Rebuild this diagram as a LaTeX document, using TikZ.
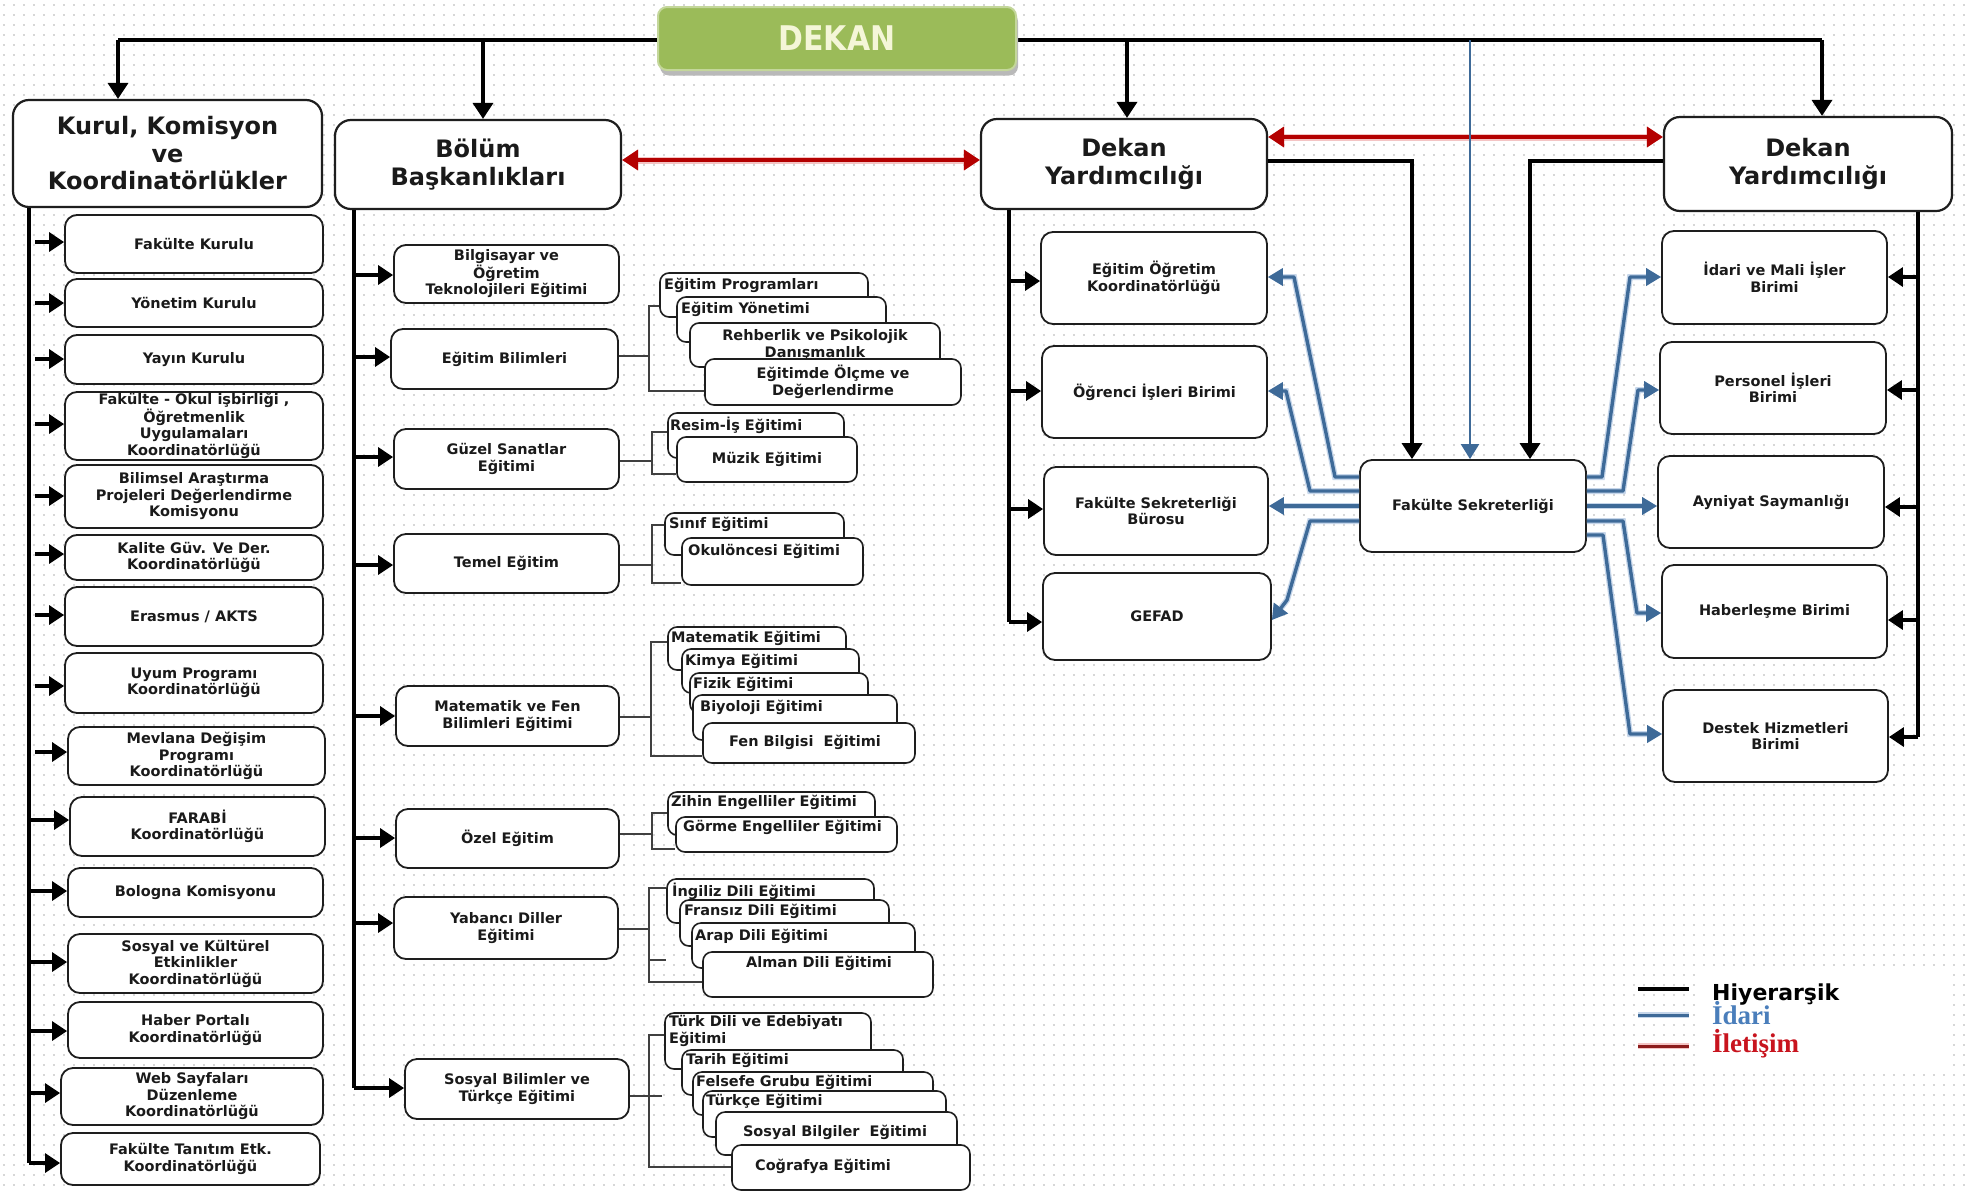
\documentclass[tikz,border=0pt]{standalone}
\usepackage{fontspec}
\setmainfont{DejaVu Sans}
\newfontfamily\legserif{Liberation Serif}
\newfontfamily\dekanfont[FakeStretch=0.88]{DejaVu Sans}
\usetikzlibrary{arrows.meta}
\definecolor{dotc}{HTML}{B0B0B0}
\definecolor{boxc}{HTML}{1E1E1E}
\definecolor{txtc}{HTML}{1A1A1A}
\definecolor{idblue}{HTML}{3E6A98}
\definecolor{idlight}{HTML}{C6D6EA}
\definecolor{idtxt}{HTML}{4A7EBB}
\definecolor{redc}{HTML}{B40000}
\definecolor{redlight}{HTML}{F4C4C4}
\definecolor{legred}{HTML}{8C1C1C}
\definecolor{redtxt}{HTML}{C8141E}
\definecolor{dgreen}{HTML}{9BBB59}
\definecolor{dgreenl}{HTML}{C4D79B}
\definecolor{dekantxt}{HTML}{F4F6D8}
\newcommand{\bx}[7]{\node[#1, minimum width={#5-#3}, minimum height={#6-#4}] (#2) at ({(#3+#5)/2},{(#4+#6)/2}) {#7};}
\tikzset{
 sfont/.style={font=\fontsize{14.5}{16.5}\selectfont\bfseries, text=txtc},
 hfont/.style={font=\fontsize{24}{27.5}\selectfont\bfseries, text=txtc},
 hbox/.style={draw=boxc, line width=2.2pt, fill=white, rounded corners=16pt, hfont, align=center, inner sep=0pt},
 sbox/.style={draw=boxc, line width=1.8pt, fill=white, rounded corners=12pt, sfont, align=center, inner sep=0pt},
 subbox/.style={draw=boxc, line width=1.6pt, fill=white, rounded corners=9pt, inner sep=0pt},
 stxt/.style={sfont, inner sep=0pt, align=left},
 ctxt/.style={sfont, inner sep=0pt, align=center},
 hline/.style={draw=black, line width=3.5pt},
 harrow/.style={draw=black, line width=3.5pt, -{Triangle[length=16pt,width=20pt]}},
 brarrow/.style={draw=black, line width=3.2pt, -{Triangle[length=15pt,width=19pt]}},
 brk/.style={draw=boxc!85, line width=1.4pt},
 blueln/.style={draw=idblue, line width=3.4pt, line join=round, preaction={draw=idlight, line width=6pt}},
 bluearrow/.style={blueln, -{Triangle[length=15pt,width=17pt]}},
 redarrow/.style={draw=redc, line width=3.5pt, {Triangle[length=16pt,width=20pt]}-{Triangle[length=16pt,width=20pt]}, preaction={draw=redlight, line width=7pt}},
}
\begin{document}
\begin{tikzpicture}[x=1pt,y=-1pt]
\useasboundingbox (0,0) rectangle (1966,1192);
\fill[white] (0,0) rectangle (1966,1192);
\foreach \yy in {5,15,...,1185} \draw[dotc, line width=1.6pt, line cap=round, dash pattern=on 0pt off 10pt] (4,\yy) -- (1966,\yy);

% top line and DEKAN
\coordinate (tl) at (118,40);
\coordinate (tr) at (1822,40);
\draw[hline] (tl) -- (tr);
\node[fill=gray!55, rounded corners=9pt, minimum width=358, minimum height=63, inner sep=0pt] (dsh) at (839,44) {};
\node[fill=dgreen, draw=dgreenl, line width=2pt, rounded corners=9pt, minimum width=358, minimum height=63, inner sep=0pt, font=\dekanfont\fontsize{34}{34}\selectfont\bfseries, text=dekantxt] (dekan) at (837,38.5) {DEKAN};

% headers
\bx{hbox}{kurul}{13}{100}{322}{207}{Kurul, Komisyon\\ve\\Koordinatörlükler}
\bx{hbox}{bolum}{335}{120}{621}{209}{Bölüm\\Başkanlıkları}
\bx{hbox}{dy1}{981}{119}{1267}{209}{Dekan\\Yardımcılığı}
\bx{hbox}{dy2}{1664}{117}{1952}{211}{Dekan\\Yardımcılığı}

% left column
\bx{sbox}{k1}{65}{215}{323}{273}{Fakülte Kurulu}
\bx{sbox}{k2}{65}{279}{323}{327}{Yönetim Kurulu}
\bx{sbox}{k3}{65}{335}{323}{384}{Yayın Kurulu}
\bx{sbox}{k4}{65}{392}{323}{460}{Fakülte - Okul işbirliği ,\\Öğretmenlik\\Uygulamaları\\Koordinatörlüğü}
\bx{sbox}{k5}{65}{465}{323}{528}{Bilimsel Araştırma\\Projeleri Değerlendirme\\Komisyonu}
\bx{sbox}{k6}{65}{535}{323}{580}{Kalite Güv. Ve Der.\\Koordinatörlüğü}
\bx{sbox}{k7}{65}{587}{323}{646}{Erasmus / AKTS}
\bx{sbox}{k8}{65}{653}{323}{713}{Uyum Programı\\Koordinatörlüğü}
\bx{sbox}{k9}{68}{727}{325}{785}{Mevlana Değişim\\Programı\\Koordinatörlüğü}
\bx{sbox}{k10}{70}{797}{325}{856}{FARABİ\\Koordinatörlüğü}
\bx{sbox}{k11}{68}{868}{323}{917}{Bologna Komisyonu}
\bx{sbox}{k12}{68}{934}{323}{993}{Sosyal ve Kültürel\\Etkinlikler\\Koordinatörlüğü}
\bx{sbox}{k13}{68}{1002}{323}{1058}{Haber Portalı\\Koordinatörlüğü}
\bx{sbox}{k14}{61}{1068}{323}{1125}{Web Sayfaları\\Düzenleme\\Koordinatörlüğü}
\bx{sbox}{k15}{61}{1133}{320}{1185}{Fakülte Tanıtım Etk.\\Koordinatörlüğü}

% middle column
\bx{sbox}{b1}{394}{245}{619}{303}{Bilgisayar ve\\Öğretim\\Teknolojileri Eğitimi}
\bx{sbox}{b2}{391}{329}{618}{389}{Eğitim Bilimleri}
\bx{sbox}{b3}{394}{429}{619}{489}{Güzel Sanatlar\\Eğitimi}
\bx{sbox}{b4}{394}{534}{619}{593}{Temel Eğitim}
\bx{sbox}{b5}{396}{686}{619}{746}{Matematik ve Fen\\Bilimleri Eğitimi}
\bx{sbox}{b6}{396}{809}{619}{868}{Özel Eğitim}
\bx{sbox}{b7}{394}{897}{618}{959}{Yabancı Diller\\Eğitimi}
\bx{sbox}{b8}{405}{1059}{629}{1119}{Sosyal Bilimler ve\\Türkçe Eğitimi}

% sub-box groups
\bx{subbox}{eb1}{660}{273}{868}{317}{}
\node[stxt, anchor=west] (eb1t) at (664,285) {Eğitim Programları};
\bx{subbox}{eb2}{677}{297}{886}{342}{}
\node[stxt, anchor=west] (eb2t) at (681,309) {Eğitim Yönetimi};
\bx{subbox}{eb3}{690}{323}{940}{367}{}
\node[ctxt] (eb3t) at (815,345) {Rehberlik ve Psikolojik\\Danışmanlık};
\bx{subbox}{eb4}{705}{359}{961}{405}{}
\node[ctxt] (eb4t) at (833,382) {Eğitimde Ölçme ve\\Değerlendirme};

\bx{subbox}{gs1}{668}{413}{844}{458}{}
\node[stxt, anchor=west] (gs1t) at (670,425) {Resim-İş Eğitimi};
\bx{subbox}{gs2}{677}{437}{857}{482}{}
\node[ctxt] (gs2t) at (767,459) {Müzik Eğitimi};

\bx{subbox}{te1}{665}{513}{844}{555}{}
\node[stxt, anchor=west] (te1t) at (669,524) {Sınıf Eğitimi};
\bx{subbox}{te2}{682}{538}{863}{585}{}
\node[stxt, anchor=west] (te2t) at (688,551) {Okulöncesi Eğitimi};

\bx{subbox}{mf1}{668}{627}{846}{670}{}
\node[stxt, anchor=west] (mf1t) at (671,638) {Matematik Eğitimi};
\bx{subbox}{mf2}{682}{649}{859}{693}{}
\node[stxt, anchor=west] (mf2t) at (685,661) {Kimya Eğitimi};
\bx{subbox}{mf3}{690}{673}{868}{713}{}
\node[stxt, anchor=west] (mf3t) at (693,684) {Fizik Eğitimi};
\bx{subbox}{mf4}{693}{695}{897}{740}{}
\node[stxt, anchor=west] (mf4t) at (700,707) {Biyoloji Eğitimi};
\bx{subbox}{mf5}{703}{723}{915}{763}{}
\node[ctxt] (mf5t) at (805,742) {Fen Bilgisi~ Eğitimi};

\bx{subbox}{oz1}{668}{792}{875}{835}{}
\node[stxt, anchor=west] (oz1t) at (671,802) {Zihin Engelliler Eğitimi};
\bx{subbox}{oz2}{676}{817}{897}{852}{}
\node[stxt, anchor=west] (oz2t) at (683,827) {Görme Engelliler Eğitimi};

\bx{subbox}{yd1}{667}{879}{874}{923}{}
\node[stxt, anchor=west] (yd1t) at (672,891) {İngiliz Dili Eğitimi};
\bx{subbox}{yd2}{680}{900}{889}{946}{}
\node[stxt, anchor=west] (yd2t) at (684,911) {Fransız Dili Eğitimi};
\bx{subbox}{yd3}{692}{923}{915}{968}{}
\node[stxt, anchor=west] (yd3t) at (695,936) {Arap Dili Eğitimi};
\bx{subbox}{yd4}{703}{952}{933}{997}{}
\node[ctxt] (yd4t) at (819,963) {Alman Dili Eğitimi};

\bx{subbox}{sb1}{665}{1013}{871}{1069}{}
\node[stxt, anchor=west] (sb1t) at (669,1031) {Türk Dili ve Edebiyatı\\Eğitimi};
\bx{subbox}{sb2}{682}{1050}{903}{1095}{}
\node[stxt, anchor=west] (sb2t) at (686,1060) {Tarih Eğitimi};
\bx{subbox}{sb3}{693}{1072}{933}{1115}{}
\node[stxt, anchor=west] (sb3t) at (696,1082) {Felsefe Grubu Eğitimi};
\bx{subbox}{sb4}{703}{1091}{946}{1137}{}
\node[stxt, anchor=west] (sb4t) at (706,1101) {Türkçe Eğitimi};
\bx{subbox}{sb5}{716}{1112}{957}{1155}{}
\node[ctxt] (sb5t) at (835,1132) {Sosyal Bilgiler~ Eğitimi};
\bx{subbox}{sb6}{732}{1145}{970}{1190}{}
\node[ctxt] (sb6t) at (823,1166) {Coğrafya Eğitimi};

% right side
\bx{sbox}{eok}{1041}{232}{1267}{324}{Eğitim Öğretim\\Koordinatörlüğü}
\bx{sbox}{oi}{1042}{346}{1267}{438}{Öğrenci İşleri Birimi}
\bx{sbox}{fsb}{1044}{467}{1268}{555}{Fakülte Sekreterliği\\Bürosu}
\bx{sbox}{gef}{1043}{573}{1271}{660}{GEFAD}
\bx{sbox}{fs}{1360}{460}{1586}{552}{Fakülte Sekreterliği}
\bx{sbox}{ida}{1662}{231}{1887}{324}{İdari ve Mali İşler\\Birimi}
\bx{sbox}{per}{1660}{342}{1886}{434}{Personel İşleri\\Birimi}
\bx{sbox}{ayn}{1658}{456}{1884}{548}{Ayniyat Saymanlığı}
\bx{sbox}{hab}{1662}{565}{1887}{658}{Haberleşme Birimi}
\bx{sbox}{des}{1663}{690}{1888}{782}{Destek Hizmetleri\\Birimi}

% top arrows
\draw[harrow] (tl) -- (kurul.north -| tl);
\draw[harrow] (483,40) -- (bolum.north -| 483,0);
\draw[harrow] (1127,40) -- (dy1.north -| 1127,0);
\draw[harrow] (tr) -- (dy2.north -| tr);

% left column tree
\draw[hline] (kurul.south -| 29,0) -- (29,1163);
\foreach \nn/\yy in {k1/242,k2/303,k3/359,k4/424,k5/496,k6/554,k7/615,k8/686,k9/752}
  \draw[brarrow] (35,\yy) -- (\nn.west |- 0,\yy);
\foreach \nn/\yy in {k10/820,k11/891,k12/962,k13/1031,k14/1093,k15/1163}
  \draw[brarrow] (29,\yy) -- (\nn.west |- 0,\yy);

% middle column tree
\draw[hline] (bolum.south -| 354,0) -- (354,1088);
\foreach \nn/\yy in {b1/275,b2/357,b3/457,b4/565,b5/716,b6/838,b7/923,b8/1088}
  \draw[brarrow] (354,\yy) -- (\nn.west |- 0,\yy);

% brackets
\draw[brk] (b2.east |- 0,356) -- (649,356);
\draw[brk] (eb1.west |- 0,306) -| (649,391) -- (eb4.west |- 0,391);
\draw[brk] (b3.east |- 0,461) -- (652,461);
\draw[brk] (gs1.west |- 0,432) -| (652,474) -- (gs2.west |- 0,474);
\draw[brk] (b4.east |- 0,565) -- (652,565);
\draw[brk] (te1.west |- 0,525) -| (652,583) -- (te2.west |- 0,583);
\draw[brk] (b5.east |- 0,717) -- (651,717);
\draw[brk] (mf1.west |- 0,642) -| (651,756) -- (mf5.west |- 0,756);
\draw[brk] (b6.east |- 0,834) -- (652,834);
\draw[brk] (oz1.west |- 0,813) -| (652,849) -- (oz2.west |- 0,849);
\draw[brk] (b7.east |- 0,929) -- (649,929);
\draw[brk] (yd1.west |- 0,888) -| (649,982) -- (yd4.west |- 0,982);
\draw[brk] (649,960) -- (666,960);
\draw[brk] (b8.east |- 0,1096) -- (662,1096);
\draw[brk] (sb1.west |- 0,1035) -| (649,1167) -- (sb6.west |- 0,1167);

% Dekan yardimciligi 1 tree
\draw[hline] (dy1.south -| 1009,0) -- (1009,622);
\foreach \nn/\yy in {eok/281,oi/391,fsb/509,gef/622}
  \draw[brarrow] (1009,\yy) -- (\nn.west |- 0,\yy);

% Dekan yardimciligi 2 tree
\draw[hline] (dy2.south -| 1918,0) -- (1918,737);
\foreach \nn/\yy in {ida/277,per/390,ayn/507,hab/620,des/737}
  \draw[brarrow] (1918,\yy) -- (\nn.east |- 0,\yy);

% to Fakulte Sekreterligi
\draw[harrow] (dy1.east |- 0,161) -| (fs.north -| 1412,0);
\draw[harrow] (dy2.west |- 0,161) -| (fs.north -| 1530,0);

% red communication arrows
\draw[redarrow] (bolum.east |- 0,160) -- (dy1.west |- 0,160);
\draw[redarrow] (dy1.east |- 0,137) -- (dy2.west |- 0,137);

% blue administrative lines
\draw[draw=idblue, line width=2.2pt, -{Triangle[length=15pt,width=18pt]}] (1470,40) -- (fs.north -| 1470,0);
\draw[bluearrow] (fs.west |- 0,477) -- (1335,477) -- (1294,277) -- (eok.east |- 0,277);
\draw[bluearrow] (fs.west |- 0,491) -- (1310,491) -- (1286,391) -- (oi.east |- 0,391);
\draw[bluearrow] (fs.west |- 0,506) -- (fsb.east |- 0,506);
\draw[bluearrow] (fs.west |- 0,521) -- (1310,521) -- (1287,600) -- (gef.east |- 0,620);
\draw[bluearrow] (fs.east |- 0,477) -- (1602,477) -- (1630,277) -- (ida.west |- 0,277);
\draw[bluearrow] (fs.east |- 0,491) -- (1623,491) -- (1638,390) -- (per.west |- 0,390);
\draw[bluearrow] (fs.east |- 0,506) -- (ayn.west |- 0,506);
\draw[bluearrow] (fs.east |- 0,521) -- (1623,521) -- (1637,613) -- (hab.west |- 0,613);
\draw[bluearrow] (fs.east |- 0,535) -- (1603,535) -- (1630,734) -- (des.west |- 0,734);

% legend
\node[fill=white, minimum width=256, minimum height=94, inner sep=0pt] (legbg) at (1825,1020) {};
\draw[draw=black, line width=3.5pt] (1638,989) -- (1689,989);
\draw[draw=idblue, line width=3pt, preaction={draw=idlight, line width=6pt}] (1638,1015) -- (1689,1015);
\draw[draw=legred, line width=3pt, preaction={draw=redlight, line width=6pt}] (1638,1046) -- (1689,1046);
\node[anchor=base west, inner sep=0pt, font=\fontsize{22}{22}\selectfont\bfseries, text=black] (lh) at (1712,1000) {Hiyerarşik};
\node[anchor=base west, inner sep=0pt, font=\legserif\fontsize{27}{27}\selectfont\bfseries, text=idtxt] (li) at (1712,1024) {İdari};
\node[anchor=base west, inner sep=0pt, font=\legserif\fontsize{27}{27}\selectfont\bfseries, text=redtxt] (ll) at (1712,1052) {İletişim};
\end{tikzpicture}
\end{document}
